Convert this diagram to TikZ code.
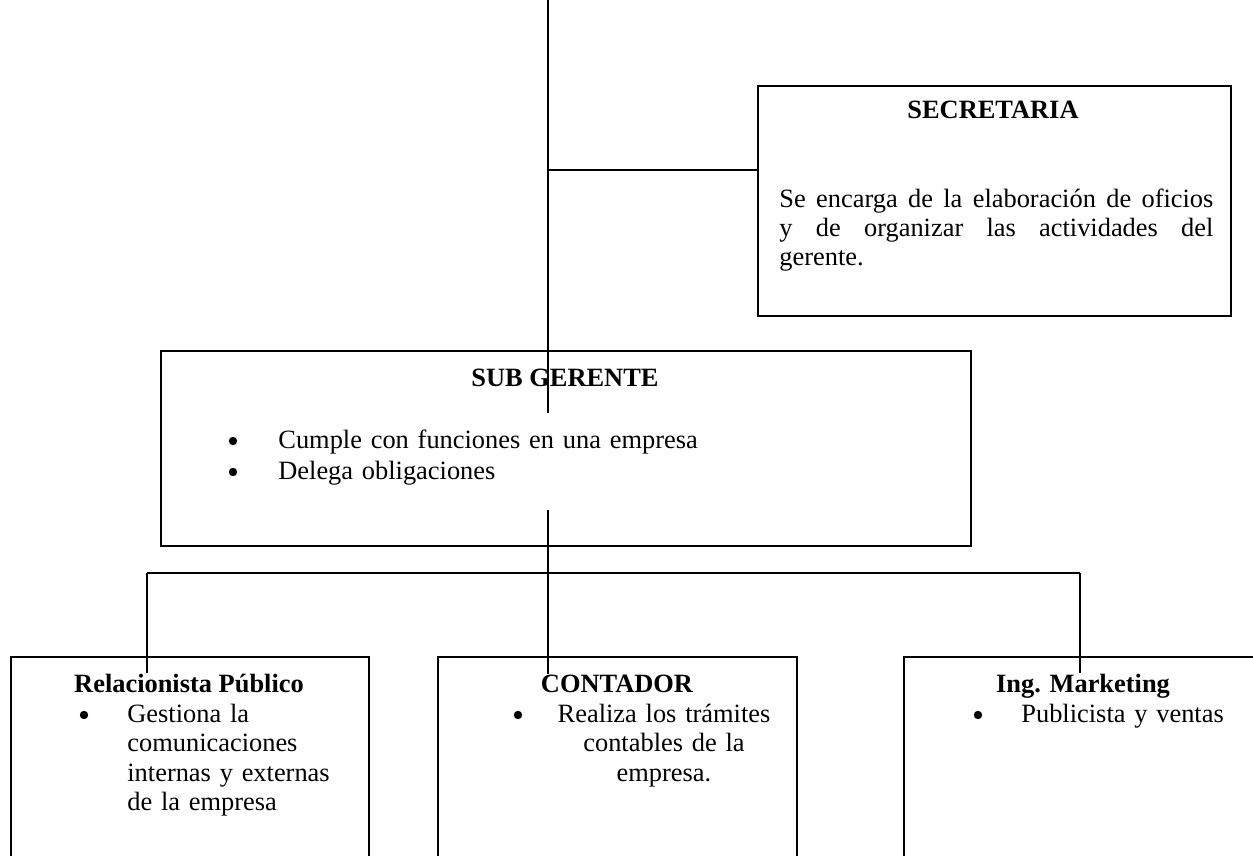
\documentclass[tikz,border=0pt]{standalone}
\usepackage{fontspec}
\setmainfont[Ligatures=CommonOff]{Liberation Serif}
\usetikzlibrary{positioning}

\begin{document}
\begin{tikzpicture}[
    x=0.5pt, y=-0.5pt,
    font=\fontsize{13.2}{14.8}\selectfont,
    % --- node styles -------------------------------------------------
    box/.style={
        draw, line width=0.9pt, anchor=north west, inner sep=0pt
    },
    title/.style={
        font=\fontsize{13.2}{14.8}\selectfont\bfseries, anchor=base, inner sep=0pt
    },
    item/.style={
        anchor=base west, inner sep=0pt, text width=120pt, align=left
    },
    dot/.style={circle, fill, inner sep=0pt, minimum size=4.2pt},
    link/.style={line width=0.9pt}
]
\useasboundingbox (0,0) rectangle (1253,856);
\clip (0,0) rectangle (1253,856);

% --- boxes --------------------------------------------------------
\node[box, minimum width=236.5pt, minimum height=115pt] (secre) at (757,85) {};
\node[box, minimum width=405pt, minimum height=97.5pt] (subg) at (160,350) {};
\node[box, minimum width=179pt, minimum height=130pt] (relac) at (10,656) {};
\node[box, minimum width=179.5pt, minimum height=130pt] (conta) at (437,656) {};
\node[box, minimum width=200pt, minimum height=130pt] (marke) at (903,656) {};

% --- secretaria ---------------------------------------------------
\node[title] (secreT) at (993,119) {SECRETARIA};
\node[anchor=base west, inner sep=0pt, text width=217pt, align=justify,
      font=\fontsize{13.2}{14.5}\selectfont] (secreP) at (779,207)
    {Se encarga de la elaboración de oficios\linebreak
     y de organizar las actividades del\linebreak gerente.};

% --- sub gerente --------------------------------------------------
\node[title] (subgT) at (565,386) {SUB GERENTE};
\node[dot] (b1) at (233,441) {};
\node[item, text width=260pt] (subgA) at (278,448) {Cumple con funciones en una empresa};
\node[dot] (b2) at (233,472) {};
\node[item] (subgB) at (278,479) {Delega obligaciones};

% --- bottom row ---------------------------------------------------
\node[title] (relacT) at (189,692) {Relacionista Público};
\node[dot] (b3) at (84,715) {};
\node[item] (relacA) at (127,722)
    {Gestiona la\\comunicaciones\\internas y externas\\de la empresa};

\node[title] (contaT) at (617,692) {CONTADOR};
\node[dot] (b4) at (518,715) {};
\node[anchor=base, inner sep=0pt, text width=120pt, align=center] (contaA) at (664,722)
    {Realiza los trámites\\contables de la\\empresa.};

\node[title] (markeT) at (1083,692) {Ing. Marketing};
\node[dot] (b5) at (978,715) {};
\node[item] (markeA) at (1021,722) {Publicista y ventas};

% --- connectors ---------------------------------------------------
\coordinate (top) at (548,0);
\coordinate (stub) at (548,413);
\coordinate (tee) at (548,170);
\coordinate (stem) at (548,510);
\coordinate (busL) at (147,573);
\coordinate (busR) at (1080,573);

\draw[link] (top) -- (stub);
\draw[link] (tee) -- (tee -| secre.west);
\draw[link] (stem) -- (stem |- contaT.north);
\draw[link] (busL) -- (busR);
\draw[link] (busL) -- (busL |- relacT.north);
\draw[link] (busR) -- (busR |- markeT.north);

\end{tikzpicture}
\end{document}
